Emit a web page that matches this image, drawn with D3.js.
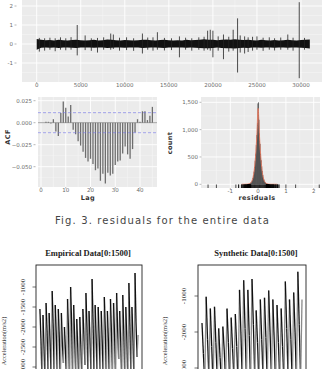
<!DOCTYPE html>
<html>
<head>
<meta charset="utf-8">
<script src="https://cdn.jsdelivr.net/npm/d3@7"></script>
<style>
  body { margin: 0; background: #fff; }
  svg { display: block; }
  .tick-lab { font-family: "DejaVu Sans", sans-serif; font-size: 5.5px; fill: #6a6a6a; }
  .ax-title { font-family: "DejaVu Sans", sans-serif; font-size: 6.5px; font-weight: bold; fill: #333; letter-spacing: 0.4px; }
  .r-lab { font-family: "Liberation Serif", serif; font-size: 7px; fill: #333; }
  .r-title { font-family: "Liberation Serif", serif; font-size: 8.5px; font-weight: bold; fill: #222; }
</style>
</head>
<body>
<svg id="fig" width="324" height="369"></svg>
<script>
// ---- top panel: residual series (band envelope every 500 samples + spikes) ----
const bandStep = 500;
const bandHi = [0.26,0.22,0.2,0.21,0.19,0.22,0.2,0.19,0.21,0.22,0.2,0.19,0.2,0.22,0.19,0.2,0.24,0.22,0.2,0.19,
  0.21,0.2,0.19,0.2,0.23,0.22,0.2,0.19,0.21,0.22,0.2,0.19,0.2,0.19,0.22,0.2,0.21,0.22,0.25,0.23,
  0.22,0.2,0.22,0.24,0.22,0.25,0.22,0.21,0.22,0.2,0.19,0.22,0.2,0.19,0.21,0.19,0.2,0.22,0.2,0.19,
  0.21,0.22,0.24];
const bandLo = [-0.3,-0.2,-0.19,-0.2,-0.18,-0.21,-0.19,-0.18,-0.2,-0.21,-0.19,-0.18,-0.19,-0.2,-0.18,-0.19,-0.21,-0.2,-0.19,-0.18,
  -0.2,-0.19,-0.18,-0.19,-0.21,-0.2,-0.19,-0.18,-0.2,-0.21,-0.19,-0.18,-0.19,-0.18,-0.2,-0.19,-0.2,-0.21,-0.23,-0.22,
  -0.21,-0.19,-0.21,-0.23,-0.22,-0.24,-0.21,-0.2,-0.21,-0.19,-0.18,-0.2,-0.19,-0.18,-0.2,-0.18,-0.19,-0.2,-0.19,-0.18,
  -0.2,-0.21,-0.24];
// [sample index, high, low]
const spikes = [
  [300,0.32,-0.4],[900,0.3,-0.35],[1500,0.33,-0.3],[2100,0.3,-0.38],[2700,0.35,-0.3],[3300,0.3,-0.33],
  [3900,0.36,-0.3],[4600,1.0,-0.6],[5500,0.45,-0.32],[6200,0.3,-0.36],[6900,0.32,-0.45],[7600,0.35,-0.3],
  [8400,0.55,-0.3],[8700,0.5,-0.26],[9400,0.33,-0.35],[10200,0.35,-0.32],[11000,0.3,-0.36],[12000,0.55,-0.5],
  [12600,0.34,-0.3],[13200,0.35,-0.35],[13700,0.62,-0.3],[14500,0.32,-0.34],[15300,0.3,-0.32],[16200,0.4,-0.7],
  [16900,0.33,-0.3],[17600,0.3,-0.35],[18400,0.35,-0.3],[19000,0.38,-0.35],[19400,0.7,-0.3],[19700,0.75,-0.35],
  [20000,0.7,-0.7],[20600,0.4,-0.35],[21200,0.5,-0.8],[21800,0.38,-0.4],[22300,0.75,-0.35],[22800,1.35,-1.5],
  [23100,0.45,-0.45],[23600,0.4,-0.5],[24000,0.35,-0.42],[24500,0.38,-0.35],[25000,0.4,-0.3],[25700,0.33,-0.36],
  [26400,0.35,-0.3],[27000,0.3,-0.34],[27700,0.34,-0.3],[28500,0.5,-0.3],[29100,0.33,-0.35],[29800,2.2,-1.8],
  [30400,0.32,-0.3]];
const topXTicks = [0,5000,10000,15000,20000,25000,30000];
const topYTicks = [-1,0,1,2];

// ---- ACF panel ----
const acfVals = [0.0,0.001,0.001,-0.001,0.004,-0.010,-0.015,0.011,0.024,0.017,
  0.007,0.020,-0.008,-0.013,-0.021,-0.026,-0.033,-0.040,-0.044,-0.041,
  -0.047,-0.054,-0.052,-0.066,-0.058,-0.069,-0.057,-0.060,-0.058,-0.048,
  -0.044,-0.043,-0.035,-0.027,-0.036,-0.041,-0.030,-0.011,0.004,0.001,
  0.013,0.013,0.003,0.008,0.018];
const acfCI = 0.0114;
const acfXTicks = [0,10,20,30,40];
const acfYTicks = [-0.05,-0.025,0,0.025];

// ---- histogram panel (bins of 0.02 starting at -0.6) ----
const histStart = -0.6, histWidth = 0.02;
const histCounts = [1,1,1,1,2,1,2,2,3,3,
  4,5,7,9,13,18,26,38,55,80,
  115,165,230,320,430,560,720,900,1120,1480,
  1500,1180,930,740,570,440,330,240,170,120,
  85,58,40,28,19,13,9,6,4,3,
  2,2,1,2,1,1,1,1,1,1,1,1,1,1,1];
const histXTicks = [-1,0,1,2];
const histYTicks = [0,500,1000,1500];

// ---- bottom plots: turning points of the first 1500 samples ----
const empVals = [
  -1550,-2300,-3300, -1700,-2500,-3400, -1400,-2100,-3200, -1650,-2400,-3350,
  -1100,-2000,-3300, -1450,-2200,-3250, -1550,-2300,-3400, -1650,-2450,-2900,
  -2000,-2600,-3300, -1300,-2100,-3400, -1000,-1900,-3350, -1450,-2300,-3200,
  -1800,-2500,-3400, -1750,-2450,-3300, -1550,-2200,-2950, -1150,-2000,-3350,
  -1600,-2350,-3250, -800,-1900,-3400, -1450,-2250,-3300, -1500,-2300,-3200,
  -1600,-2400,-3350, -1250,-2100,-3300, -1600,-2350,-3400, -1300,-2150,-3250,
  -1400,-2200,-3300, -1150,-2050,-2800, -1600,-2350,-3350, -1200,-2100,-3300,
  -1500,-2300,-3400, -900,-1950,-3250, -1500,-2300,-3350, -650,-1900,-2750,
  -2200];
const synVals = [
  -1750,-2600,-3400, -1020,-2200,-3300, -1350,-2400,-3500, -1300,-2300,-3300,
  -1900,-2700,-3400, -1850,-2500,-3350, -1350,-2300,-3450, -1600,-2450,-3300,
  -1500,-2400,-3500, -830,-2000,-3400, -560,-1900,-3300, -830,-2100,-3450,
  -530,-1800,-3300, -1400,-2300,-3500, -1100,-2200,-3350, -1050,-2150,-3400,
  -850,-2000,-3300, -1100,-2250,-3450, -1250,-2300,-3350, -1350,-2400,-3400,
  -600,-1900,-3300, -1100,-2200,-3450, -900,-2000,-3350, -325,-1800,-3300,
  -1100];
const sampleCount = 1500;
const empYTicks = [-1000,-1500,-2000,-2500,-3000];
const synYTicks = [-1000,-2000,-3000];

const svg = d3.select("#fig");
const panelBg = "#ebebeb";

function ggGrid(g, x, y, xMajor, xMinor, yMajor, yMinor, box) {
  g.append("rect").attr("x", box.x0).attr("y", box.y0)
    .attr("width", box.x1 - box.x0).attr("height", box.y1 - box.y0).attr("fill", panelBg);
  g.selectAll(null).data(xMinor).enter().append("line")
    .attr("x1", d => x(d)).attr("x2", d => x(d)).attr("y1", box.y0).attr("y2", box.y1)
    .attr("stroke", "#f6f6f6").attr("stroke-width", 0.5);
  g.selectAll(null).data(yMinor).enter().append("line")
    .attr("y1", d => y(d)).attr("y2", d => y(d)).attr("x1", box.x0).attr("x2", box.x1)
    .attr("stroke", "#f6f6f6").attr("stroke-width", 0.5);
  g.selectAll(null).data(xMajor).enter().append("line")
    .attr("x1", d => x(d)).attr("x2", d => x(d)).attr("y1", box.y0).attr("y2", box.y1)
    .attr("stroke", "#fff").attr("stroke-width", 0.9);
  g.selectAll(null).data(yMajor).enter().append("line")
    .attr("y1", d => y(d)).attr("y2", d => y(d)).attr("x1", box.x0).attr("x2", box.x1)
    .attr("stroke", "#fff").attr("stroke-width", 0.9);
}

function ggAxes(g, x, y, xTicks, yTicks, box, fmtX, fmtY, yLabX, xLabY) {
  g.selectAll(null).data(xTicks).enter().append("line")
    .attr("x1", d => x(d)).attr("x2", d => x(d)).attr("y1", box.y1).attr("y2", box.y1 + 1.5)
    .attr("stroke", "#888").attr("stroke-width", 0.6);
  g.selectAll(null).data(xTicks).enter().append("text").attr("class", "tick-lab")
    .attr("x", d => x(d)).attr("y", xLabY).attr("text-anchor", "middle").text(fmtX);
  g.selectAll(null).data(yTicks).enter().append("line")
    .attr("x1", yLabX + 1.5).attr("x2", yLabX + 3.5).attr("y1", d => y(d)).attr("y2", d => y(d))
    .attr("stroke", "#888").attr("stroke-width", 0.6);
  g.selectAll(null).data(yTicks).enter().append("text").attr("class", "tick-lab")
    .attr("x", yLabX).attr("y", d => y(d) + 2).attr("text-anchor", "end").text(fmtY);
}

// ===== top panel =====
{
  const box = {x0: 22, x1: 322, y0: 0, y1: 82};
  const x = d3.scaleLinear().domain([0, 30000]).range([36.7, 301]);
  const y = d3.scaleLinear().domain([-1, 2]).range([63, 6]);
  const g = svg.append("g");
  ggGrid(g, x, y, topXTicks, d3.range(2500, 32500, 5000), topYTicks, [-1.5,-0.5,0.5,1.5], box);
  ggAxes(g, x, y, topXTicks, topYTicks, box, d => d, d => d, 13, 87);

  const area = d3.area()
    .x((d, i) => x(i * bandStep))
    .y0((d, i) => y(bandLo[i]))
    .y1(d => y(d));
  g.append("path").datum(bandHi).attr("d", area).attr("fill", "#111");
  g.selectAll(null).data(spikes).enter().append("line")
    .attr("x1", d => x(d[0])).attr("x2", d => x(d[0]))
    .attr("y1", d => y(d[1])).attr("y2", d => y(d[2]))
    .attr("stroke", "#222").attr("stroke-width", 0.8);
}

// ===== ACF panel =====
{
  const box = {x0: 38, x1: 157, y0: 97, y1: 187};
  const x = d3.scaleLinear().domain([0, 40]).range([41, 140]);
  const y = d3.scaleLinear().domain([-0.05, 0]).range([166.7, 122.7]);
  const g = svg.append("g");
  ggGrid(g, x, y, acfXTicks, [5,15,25,35,45], acfYTicks, [-0.0625,-0.0375,-0.0125,0.0125], box);
  ggAxes(g, x, y, acfXTicks, acfYTicks, box, d => d, d3.format(".3f"), 32, 192);
  g.append("line").attr("x1", box.x0).attr("x2", box.x1).attr("y1", y(0)).attr("y2", y(0))
    .attr("stroke", "#8a8a8a").attr("stroke-width", 0.8);
  g.selectAll(null).data(acfVals).enter().append("line")
    .attr("x1", (d, i) => x(i + 1)).attr("x2", (d, i) => x(i + 1))
    .attr("y1", y(0)).attr("y2", d => y(d))
    .attr("stroke", "#6e6e6e").attr("stroke-width", 1.3);
  g.selectAll(null).data([acfCI, -acfCI]).enter().append("line")
    .attr("x1", box.x0).attr("x2", box.x1).attr("y1", d => y(d)).attr("y2", d => y(d))
    .attr("stroke", "#7070e8").attr("stroke-width", 0.6).attr("stroke-dasharray", "3,2");
  g.append("text").attr("class", "ax-title").attr("x", 88).attr("y", 199.5)
    .attr("text-anchor", "middle").text("Lag");
  g.append("text").attr("class", "ax-title")
    .attr("transform", "translate(9.5,137) rotate(-90)").attr("text-anchor", "middle").text("ACF");
}

// ===== histogram panel =====
{
  const box = {x0: 201, x1: 320, y0: 97, y1: 188};
  const x = d3.scaleLinear().domain([-1, 2]).range([230.3, 313.7]);
  const y = d3.scaleLinear().domain([0, 1500]).range([184.3, 102.3]);
  const g = svg.append("g");
  ggGrid(g, x, y, histXTicks, [-1.5,-0.5,0.5,1.5], histYTicks, [250,750,1250], box);
  ggAxes(g, x, y, histXTicks, histYTicks, box, d => d, d3.format(" ,"), 198, 192.5);
  g.selectAll("rect.bin").data(histCounts).enter().append("rect").attr("class", "bin")
    .attr("x", (d, i) => x(histStart + i * histWidth))
    .attr("width", x(histWidth) - x(0) + 0.15)
    .attr("y", d => y(d)).attr("height", d => y(0) - y(d))
    .attr("fill", "#3a3a3a");
  const dens = d3.line().curve(d3.curveBasis)
    .x((d, i) => x(histStart + (i + 0.5) * histWidth))
    .y(d => y(d * 0.94));
  g.append("path").datum(histCounts).attr("d", dens)
    .attr("fill", "none").attr("stroke", "#e8785e").attr("stroke-width", 0.9);
  // rug: every occupied bin plus the spike extremes
  const rugVals = histCounts.map((c, i) => c > 0 ? histStart + (i + 0.5) * histWidth : null)
    .filter(v => v !== null)
    .concat(spikes.flatMap(s => [s[1], s[2]]));
  g.selectAll(null).data(rugVals).enter().append("line")
    .attr("x1", d => x(d)).attr("x2", d => x(d)).attr("y1", box.y1).attr("y2", box.y1 - 3.5)
    .attr("stroke", "#000").attr("stroke-width", 0.7);
  g.append("text").attr("class", "ax-title").attr("x", 257).attr("y", 199.5)
    .attr("text-anchor", "middle").text("residuals");
  g.append("text").attr("class", "ax-title")
    .attr("transform", "translate(171.5,143) rotate(-90)").attr("text-anchor", "middle").text("count");
}

// ===== caption =====
svg.append("text").attr("x", 162.5).attr("y", 224).attr("text-anchor", "middle")
  .attr("font-family", "'DejaVu Sans', sans-serif").attr("font-size", "10px")
  .attr("letter-spacing", "1.15px").attr("fill", "#444")
  .text("Fig. 3. residuals for the entire data");

// ===== bottom base-R style plots =====
function basePlot(vals, box, yDom, yRange, ticks, title, titleX, labX, ylabX) {
  const g = svg.append("g");
  const pad = (box.x1 - box.x0) * 0.037;
  const x = d3.scaleLinear().domain([0, sampleCount]).range([box.x0 + pad, box.x1 - pad]);
  const y = d3.scaleLinear().domain(yDom).range(yRange);
  const clipId = "clip" + Math.round(box.x0);
  g.append("clipPath").attr("id", clipId).append("rect")
    .attr("x", box.x0).attr("y", box.y0).attr("width", box.x1 - box.x0).attr("height", 200);
  const step = sampleCount / (vals.length - 1);
  const segs = d3.pairs(vals.map((v, i) => [i * step, v]));
  g.append("g").attr("clip-path", `url(#${clipId})`)
    .selectAll("line").data(segs).enter().append("line")
    .attr("x1", d => x(d[0][0])).attr("y1", d => y(d[0][1]))
    .attr("x2", d => x(d[1][0])).attr("y2", d => y(d[1][1]))
    .attr("stroke", d => d[1][1] < d[0][1] ? "#111" : "#8a8a8a")
    .attr("stroke-width", 1.3);
  g.append("rect").attr("x", box.x0).attr("y", box.y0)
    .attr("width", box.x1 - box.x0).attr("height", 200)
    .attr("fill", "none").attr("stroke", "#222").attr("stroke-width", 0.9);
  g.selectAll(null).data(ticks).enter().append("line")
    .attr("x1", box.x0 - 3.5).attr("x2", box.x0).attr("y1", d => y(d)).attr("y2", d => y(d))
    .attr("stroke", "#333").attr("stroke-width", 0.7);
  g.selectAll(null).data(ticks).enter().append("text").attr("class", "r-lab")
    .attr("transform", d => `translate(${labX},${y(d)}) rotate(-90)`)
    .attr("text-anchor", "middle").text(d => d);
  g.append("text").attr("class", "r-title").attr("x", titleX).attr("y", 256)
    .attr("text-anchor", "middle").text(title);
  g.append("text").attr("class", "r-lab").style("font-size", "6.3px")
    .attr("transform", `translate(${ylabX},341) rotate(-90)`)
    .attr("text-anchor", "middle").text("Acceleration(m/s2)");
}

basePlot(empVals, {x0: 36, x1: 142, y0: 265}, [-1000, -3000], [287, 367], empYTicks,
  "Empirical Data[0:1500]", 88, 24.5, 5.5);
basePlot(synVals, {x0: 198, x1: 306, y0: 265}, [-1000, -3000], [296, 368], synYTicks,
  "Synthetic Data[0:1500]", 256, 185.5, 167);
</script>
</body>
</html>
